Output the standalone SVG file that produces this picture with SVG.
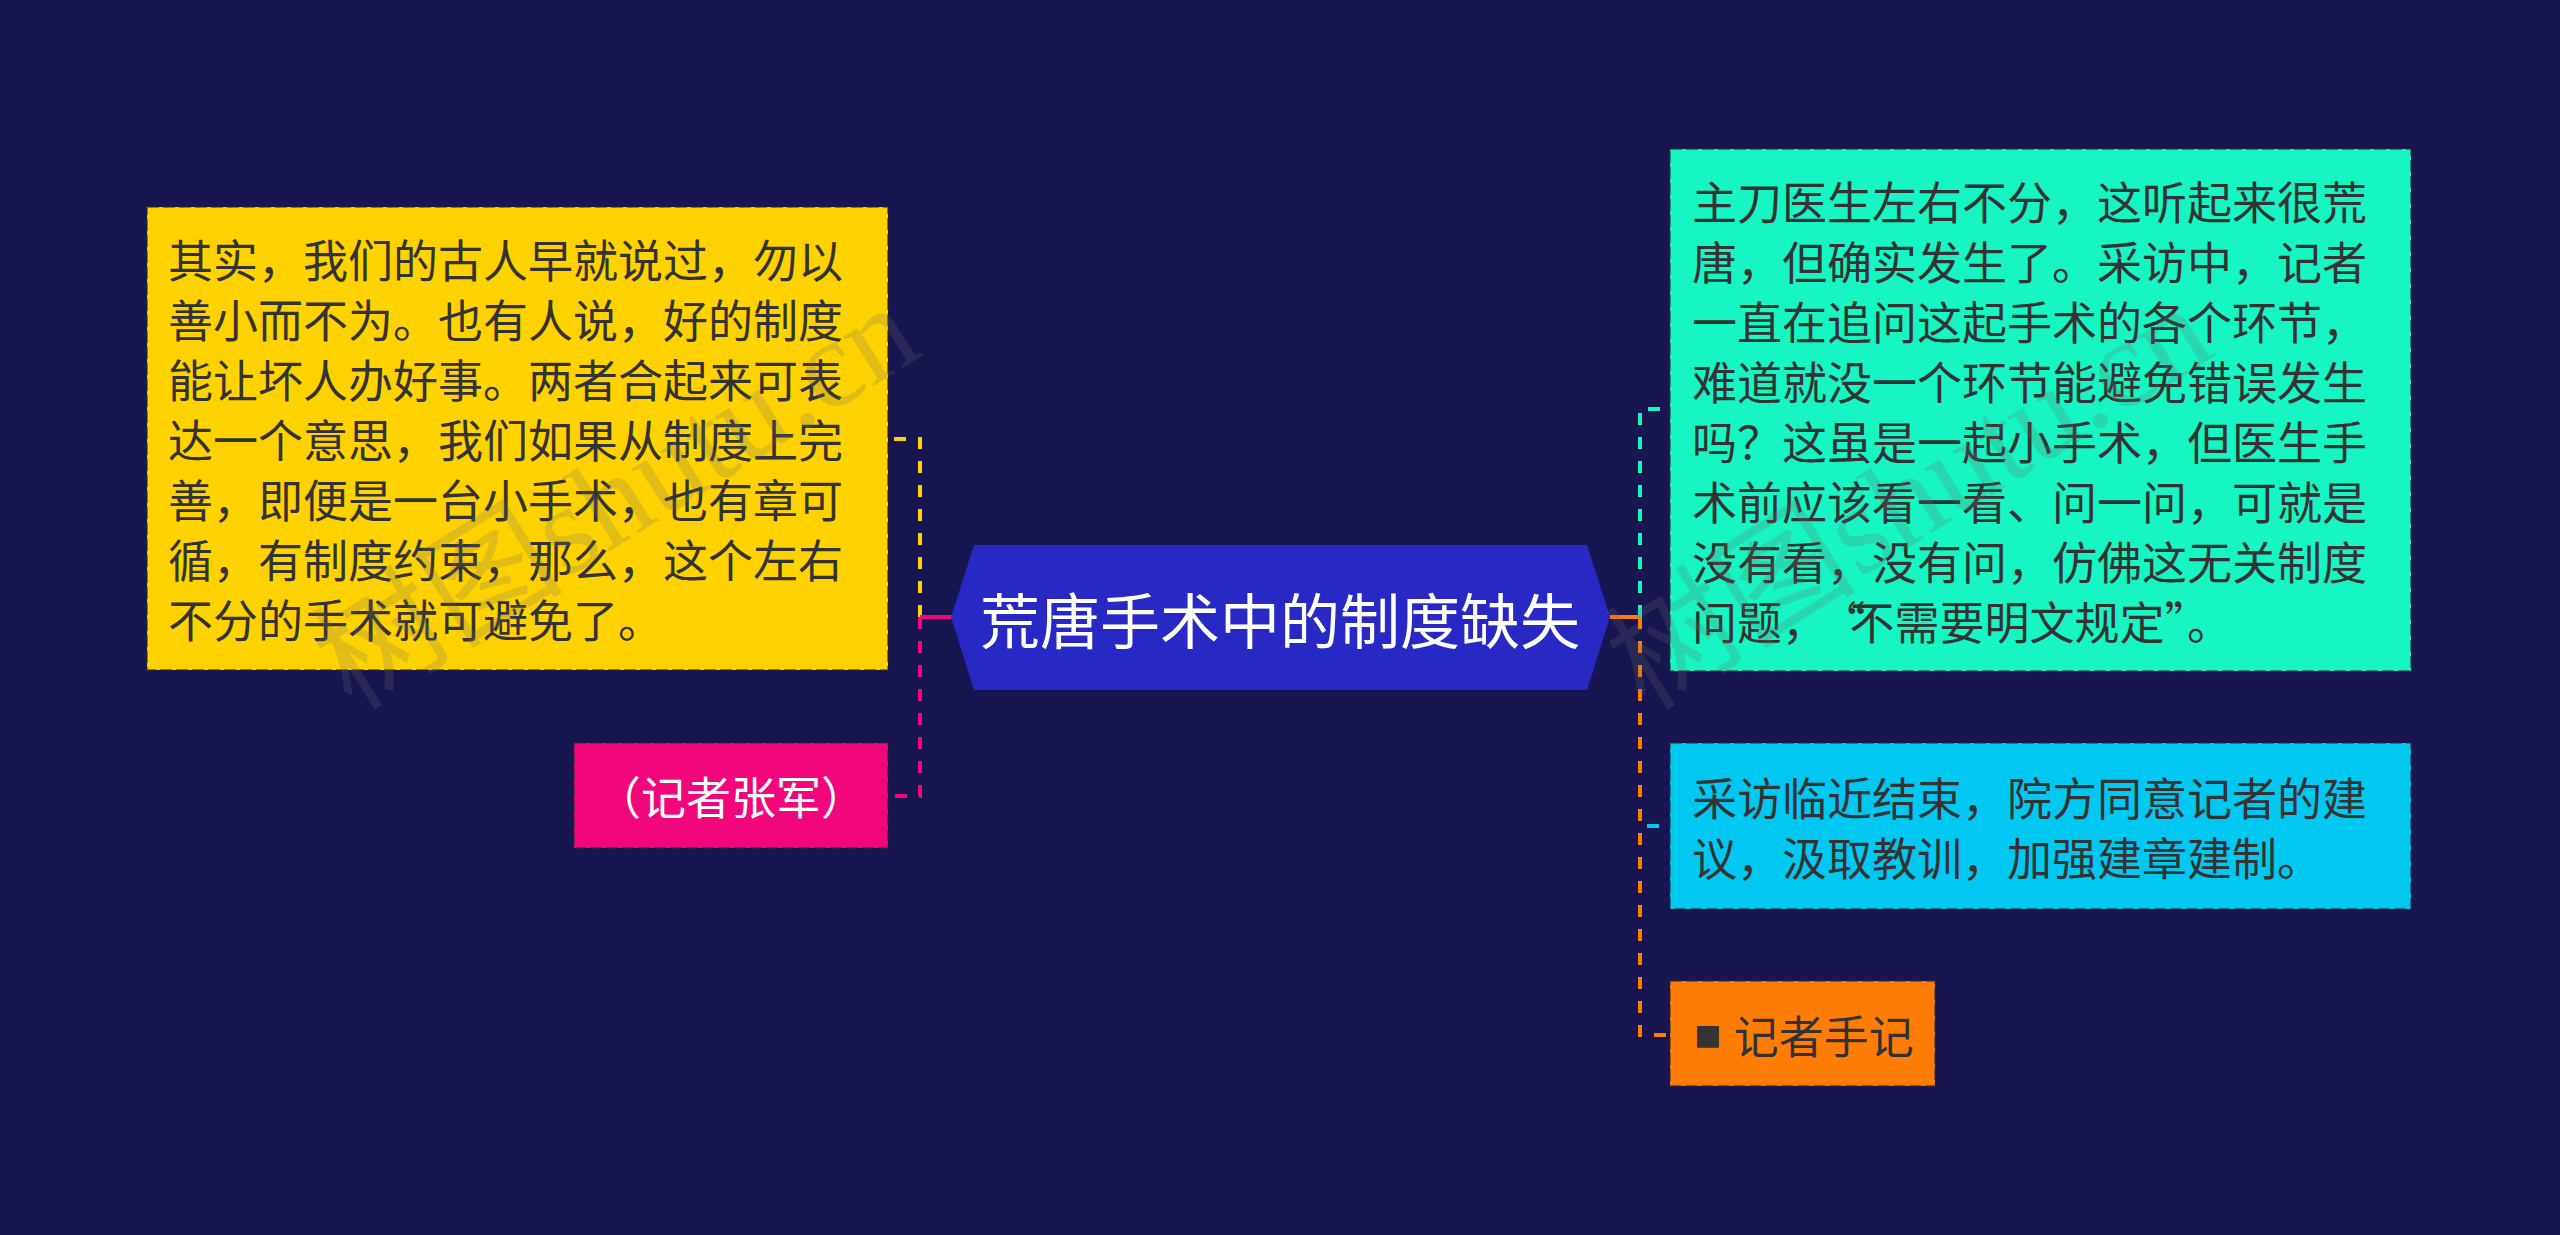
<svg xmlns="http://www.w3.org/2000/svg" width="2560" height="1235" viewBox="0 0 2560 1235">
  <style>
    .body { font-family: "Noto Sans CJK SC", "Noto Sans", sans-serif; font-size: 45px; fill: #333333; dominant-baseline: central; }
    .box { stroke: #2e2e2e; stroke-opacity: 0.55; stroke-width: 2; stroke-dasharray: 12 4; }
    .conn { fill: none; stroke-width: 4; stroke-dasharray: 12 12; }
    .solid { fill: none; stroke-width: 4; }
    .wm { font-family: "Liberation Serif", "Noto Sans CJK SC", serif; font-size: 126px; fill: #6e6e6e; fill-opacity: 0.22; }
  </style>
  <rect x="0" y="0" width="2560" height="1235" fill="#181650"/>

  <g id="connectors">
    <path class="conn" d="M920,617 V439 H888" stroke="#ffd200"/>
    <path class="solid" d="M952,617 H920" stroke="#f2067c"/>
    <path class="conn" d="M920,617 V796 H888" stroke="#f2067c"/>
    <path class="conn" d="M1640,617 V409 H1670" stroke="#16f5c2"/>
    <path class="conn" d="M1640,617 V826 H1670" stroke="#00c8f0"/>
    <path class="solid" d="M1610,617 H1640" stroke="#ff7d06"/>
    <path class="conn" d="M1640,617 V1035 H1670" stroke="#ff7d06"/>
  </g>

  <g id="node-center">
    <polygon points="951,617 974,545 1587,545 1610,617 1587,690 974,690" fill="#2828c4"/>
    <text x="1280" y="617" text-anchor="middle" font-family="Noto Sans CJK SC, Noto Sans, sans-serif" font-size="60" fill="#ffffff" dominant-baseline="central">荒唐手术中的制度缺失</text>
  </g>

  <g id="node-left-1">
    <rect class="box" x="147" y="207" width="741" height="463" fill="#ffd200"/>
    <text class="body" x="168" y="258.5">其实，我们的古人早就说过，勿以</text>
    <text class="body" x="168" y="318.5">善小而不为。也有人说，好的制度</text>
    <text class="body" x="168" y="378.5">能让坏人办好事。两者合起来可表</text>
    <text class="body" x="168" y="438.5">达一个意思，我们如果从制度上完</text>
    <text class="body" x="168" y="498.5">善，即便是一台小手术，也有章可</text>
    <text class="body" x="168" y="558.5">循，有制度约束，那么，这个左右</text>
    <text class="body" x="168" y="618.5">不分的手术就可避免了。</text>
  </g>

  <g id="node-left-2">
    <rect class="box" x="574" y="743" width="314" height="105" fill="#f2067c"/>
    <text class="body" x="731" y="795" text-anchor="middle" font-size="44" style="fill:#ffffff">（记者张军）</text>
  </g>

  <g id="node-right-1">
    <rect class="box" x="1670" y="149" width="741" height="522" fill="#16f5c2"/>
    <text class="body" x="1692" y="200">主刀医生左右不分，这听起来很荒</text>
    <text class="body" x="1692" y="260">唐，但确实发生了。采访中，记者</text>
    <text class="body" x="1692" y="320">一直在追问这起手术的各个环节，</text>
    <text class="body" x="1692" y="380">难道就没一个环节能避免错误发生</text>
    <text class="body" x="1692" y="440">吗？这虽是一起小手术，但医生手</text>
    <text class="body" x="1692" y="500">术前应该看一看、问一问，可就是</text>
    <text class="body" x="1692" y="560">没有看，没有问，仿佛这无关制度</text>
    <text class="body" x="1692" y="620" dx="0 0 0 16 -16">问题，“不需要明文规定”。</text>
  </g>

  <g id="node-right-2">
    <rect class="box" x="1670" y="743" width="741" height="166" fill="#00c8f0"/>
    <text class="body" x="1692" y="796">采访临近结束，院方同意记者的建</text>
    <text class="body" x="1692" y="856">议，汲取教训，加强建章建制。</text>
  </g>

  <g id="node-right-3">
    <rect class="box" x="1670" y="981" width="265" height="105" fill="#ff7d06"/>
    <text class="body" x="1694" y="1034"><tspan font-family="Liberation Sans, sans-serif">■ </tspan>记者手记</text>
  </g>

  <g id="watermark">
    <text class="wm" transform="translate(352,712) rotate(-32)">树图shutu.cn</text>
    <text class="wm" transform="translate(1645,712) rotate(-32)">树图shutu.cn</text>
  </g>
</svg>
